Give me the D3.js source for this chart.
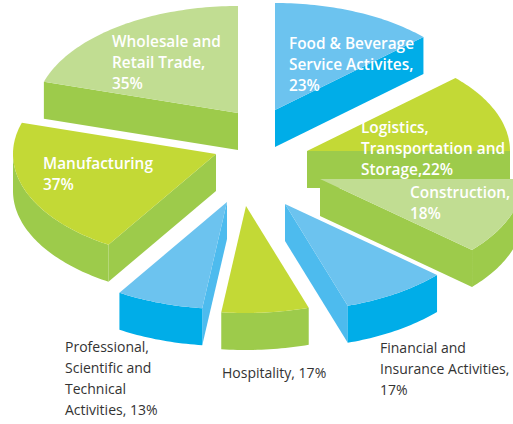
<!DOCTYPE html>
<html><head><meta charset="utf-8">
<script src="https://cdn.jsdelivr.net/npm/d3@7/dist/d3.min.js"></script>
<style>html,body{margin:0;padding:0;background:#fff;overflow:hidden}svg{display:block}</style>
</head><body><svg id="c" width="513" height="424"></svg>
<script>
// Data
const categories = ["Food & Beverage Service Activites","Logistics, Transportation and Storage","Construction","Financial and Insurance Activities","Hospitality","Professional, Scientific and Technical Activities","Manufacturing","Wholesale and Retail Trade"];
const percentages = [23,22,18,17,17,13,37,35];
// Each slice's drawn sweep in degrees (the chart is not drawn proportionally)
const sliceSweeps = [47,43,41.5,30.5,25,25,75,73];
// Layout of the exploded slices: tip of every wedge
const tipX = [275,307,320,285,246,227,216,238];
const tipY = [110,151,179,204,206,202,154,113];
const paintOrder = [0,1,2,3,4,5,7,6];
const topColors  = ["#6cc3ef","#c3d936","#c1dd92","#6cc3ef","#c3d936","#6cc3ef","#c3d936","#c1dd92"];
const rimColors  = ["#00ade8","#9dcb4b","#9dcb4b","#00ade8","#9dcb4b","#00ade8","#9dcb4b","#9dcb4b"];
const cutColors  = ["#00ade8","#9dcb4b","#9dcb4b","#4dbbee","#9dcb4b","#4dbbee","#9dcb4b","#9dcb4b"];
const depth = 37, rx = 203, ry = 107;

const insideLabels = [
  {x:289,y:49,lh:21,lines:["Food & Beverage","Service Activites,","23%"]},
  {x:361,y:133,lh:21,lines:["Logistics,","Transportation and","Storage,22%"]},
  {x:410,y:198,lh:21,lines:["Construction,","18%"]},
  {x:43,y:169,lh:21,lines:["Manufacturing","37%"]},
  {x:112,y:47,lh:21,lines:["Wholesale and","Retail Trade,","35%"]}
];
const outsideLabels = [
  {x:380,y:353,lh:21,lines:["Financial and","Insurance Activities,","17%"]},
  {x:222,y:378,lh:21,lines:["Hospitality, 17%"]},
  {x:65,y:352,lh:21,lines:["Professional,","Scientific and","Technical","Activities, 13%"]}
];

const svg = d3.select("#c");
const ux = d3.scaleLinear().domain([-1,1]).range([-rx,rx]);
const uy = d3.scaleLinear().domain([-1,1]).range([-ry,ry]);
const slices = d3.pie().sort(null).value(d=>d)(sliceSweeps);
const px = (i,t)=>tipX[i]+ux(Math.sin(t));
const py = (i,t)=>tipY[i]+uy(-Math.cos(t));
const samples = (a,b)=>{const n=Math.max(2,Math.ceil((b-a)/0.02));return d3.range(n+1).map(k=>a+(b-a)*k/n);};
const line = d3.line();
const halfTurn = Math.PI/2;

function cutWall(i,t){
  return line([[tipX[i],tipY[i]],[px(i,t),py(i,t)],[px(i,t),py(i,t)+depth],[tipX[i],tipY[i]+depth]])+"Z";
}
paintOrder.forEach(i=>{
  const s = slices[i], g = svg.append("g");
  const a0 = s.startAngle, a1 = s.endAngle;
  if(Math.sin(a0)<-1e-6) g.append("path").attr("d",cutWall(i,a0)).attr("fill",cutColors[i]);
  if(Math.sin(a1)>1e-6)  g.append("path").attr("d",cutWall(i,a1)).attr("fill",cutColors[i]);
  const r0 = Math.max(a0,halfTurn), r1 = Math.min(a1,3*halfTurn);
  if(r1>r0){
    const area = d3.area().x(t=>px(i,t)).y0(t=>py(i,t)).y1(t=>py(i,t)+depth);
    g.append("path").attr("d",area(samples(r0,r1))).attr("fill",rimColors[i]);
  }
  const rim = samples(a0,a1).map(t=>[px(i,t),py(i,t)]);
  g.append("path").attr("d",line([[tipX[i],tipY[i]],...rim])+"Z").attr("fill",topColors[i]);
});

function drawText(list,fill,weight,size){
  list.forEach(l=>{
    const t = svg.append("text").attr("x",l.x).attr("y",l.y)
      .attr("font-family","'Open Sans','Noto Sans',sans-serif").attr("font-size",size)
      .attr("font-weight",weight).attr("fill",fill);
    l.lines.forEach((s,k)=>t.append("tspan").attr("x",l.x).attr("y",l.y+k*l.lh).text(s));
  });
}
drawText(insideLabels,"#ffffff",600,15.4);
drawText(outsideLabels,"#333333",400,14);
</script></body></html>
